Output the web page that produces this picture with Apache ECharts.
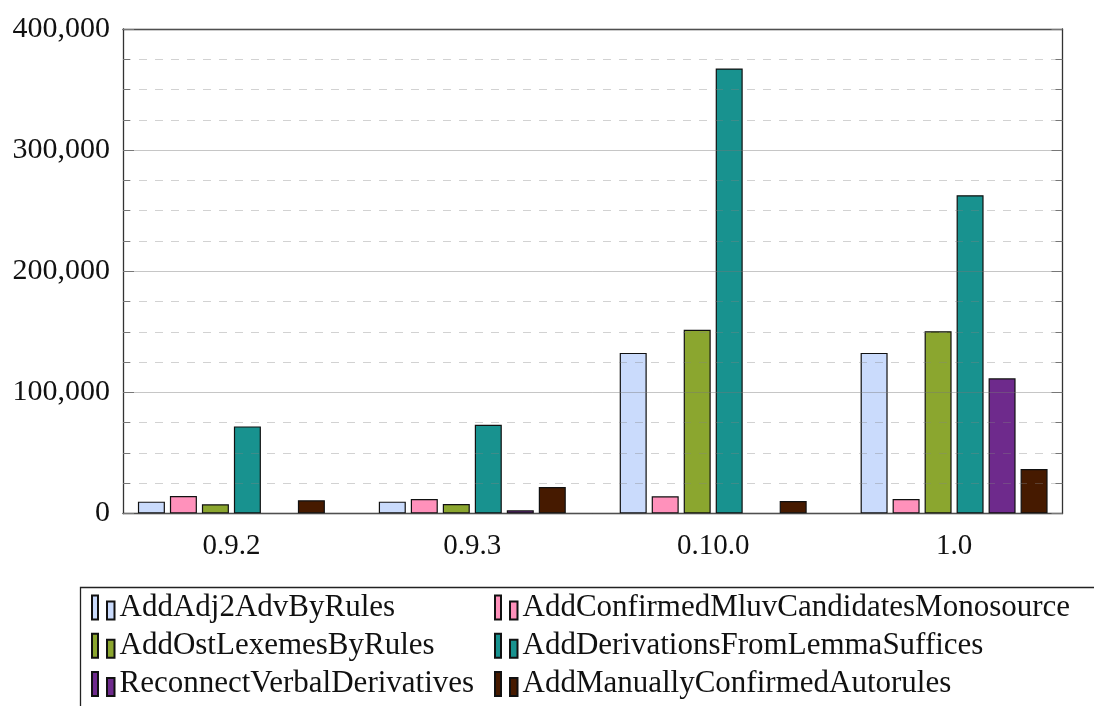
<!DOCTYPE html>
<html>
<head>
<meta charset="utf-8">
<script src="https://cdn.jsdelivr.net/npm/echarts@6/dist/echarts.min.js"></script>
<style>
html,body{margin:0;padding:0;background:#fff;}
#chart{width:1094px;height:706px;}
</style>
</head>
<body>
<div id="chart"></div>
<script>
const categories = ['0.9.2', '0.9.3', '0.10.0', '1.0'];
const seriesNames = [
  'AddAdj2AdvByRules',
  'AddConfirmedMluvCandidatesMonosource',
  'AddOstLexemesByRules',
  'AddDerivationsFromLemmaSuffices',
  'ReconnectVerbalDerivatives',
  'AddManuallyConfirmedAutorules'
];
const seriesColors = ['#cadbfc', '#ff91bb', '#8ba62f', '#18928f', '#6e2a8c', '#461a00'];
const addAdj2AdvByRules = [9800, 9800, 132600, 132600];
const addConfirmedMluvCandidatesMonosource = [14500, 12000, 14200, 12000];
const addOstLexemesByRules = [7600, 7900, 151600, 150500];
const addDerivationsFromLemmaSuffices = [71900, 73300, 367400, 262800];
const reconnectVerbalDerivatives = [null, 2600, null, 111600];
const addManuallyConfirmedAutorules = [10900, 21900, 10300, 36800];
const yTicks = [0, 100000, 200000, 300000, 400000];

const seriesValues = [
  addAdj2AdvByRules,
  addConfirmedMluvCandidatesMonosource,
  addOstLexemesByRules,
  addDerivationsFromLemmaSuffices,
  reconnectVerbalDerivatives,
  addManuallyConfirmedAutorules
];

const FONT = '"Liberation Serif", "DejaVu Serif", serif';
const legendIcon = 'path://M0,0h6v24h-6z M15,6h7.5v18h-7.5z';

const chart = echarts.init(document.getElementById('chart'), null, {renderer: 'canvas'});

const series = seriesNames.map((name, i) => ({
  name: name,
  type: 'bar',
  xAxisIndex: 0,
  yAxisIndex: 0,
  barWidth: 27,
  barGap: '18.5%',
  itemStyle: {color: seriesColors[i], borderColor: '#111', borderWidth: 1.2},
  emphasis: {disabled: true},
  data: seriesValues[i].map((v, j) => [j, v === null ? '-' : v])
}));

const yMin = yTicks[0], yMax = yTicks[yTicks.length - 1], yInt = yTicks[1] - yTicks[0];

const legendBase = {
  orient: 'vertical', top: 592, padding: 0, height: 112,
  itemWidth: 22.5, itemHeight: 24, itemGap: 7.2,
  icon: legendIcon, selectedMode: false,
  textStyle: {fontFamily: FONT, fontSize: 31, lineHeight: 31, color: '#111', padding: [0, 0, 0, 0]}
};

const option = {
  animation: false,
  backgroundColor: '#fff',
  grid: {left: 123, top: 29, right: 31.5, bottom: 192.5, containLabel: false},
  xAxis: [
    {
      type: 'value', position: 'bottom', min: -0.45, max: 3.45,
      axisLine: {show: true, onZero: false, lineStyle: {color: '#333', width: 1.3}},
      axisTick: {show: false},
      splitLine: {show: false},
      axisLabel: {
        show: true, customValues: [0, 1, 2, 3], margin: 18,
        formatter: (v) => categories[Math.round(v)] || '',
        fontFamily: FONT, fontSize: 29, color: '#111'
      }
    },
    {
      type: 'value', position: 'top', min: -0.45, max: 3.45,
      axisLine: {show: true, onZero: false, lineStyle: {color: '#333', width: 1.3}},
      axisTick: {show: false}, axisLabel: {show: false}, splitLine: {show: false}
    }
  ],
  yAxis: [
    {
      type: 'value', position: 'left', min: yMin, max: yMax, interval: yInt, z: 3,
      axisLine: {show: true, onZero: false, lineStyle: {color: '#333', width: 1.3}},
      axisTick: {show: true, inside: true, length: 11, lineStyle: {color: '#777'}},
      minorTick: {show: true, splitNumber: 4, length: 7, lineStyle: {color: '#777'}},
      splitLine: {show: true, lineStyle: {color: 'rgba(120,120,120,0.42)', width: 1}},
      minorSplitLine: {show: true, lineStyle: {color: 'rgba(130,130,130,0.36)', width: 1, type: [8, 8]}},
      axisLabel: {
        show: true, margin: 13, padding: [0, 0, 10, 0],
        formatter: (v) => Number(v).toLocaleString('en-US'),
        fontFamily: FONT, fontSize: 30, color: '#111'
      }
    },
    {
      type: 'value', position: 'right', min: yMin, max: yMax, interval: yInt, z: 3,
      axisLine: {show: true, onZero: false, lineStyle: {color: '#333', width: 1.3}},
      axisTick: {show: true, inside: true, length: 11, lineStyle: {color: '#777'}},
      minorTick: {show: true, splitNumber: 4, length: 7, lineStyle: {color: '#777'}},
      splitLine: {show: false}, axisLabel: {show: false}
    }
  ],
  legend: [
    Object.assign({}, legendBase, {left: 91, data: [seriesNames[0], seriesNames[2], seriesNames[4]]}),
    Object.assign({}, legendBase, {left: 494, data: [seriesNames[1], seriesNames[3], seriesNames[5]]})
  ],
  graphic: [
    {
      type: 'rect', z: -1, silent: true,
      shape: {x: 80.5, y: 587.5, width: 1100, height: 300},
      style: {fill: 'none', stroke: '#222', lineWidth: 1.3}
    }
  ],
  series: series
};

chart.setOption(option);
</script>
</body>
</html>
